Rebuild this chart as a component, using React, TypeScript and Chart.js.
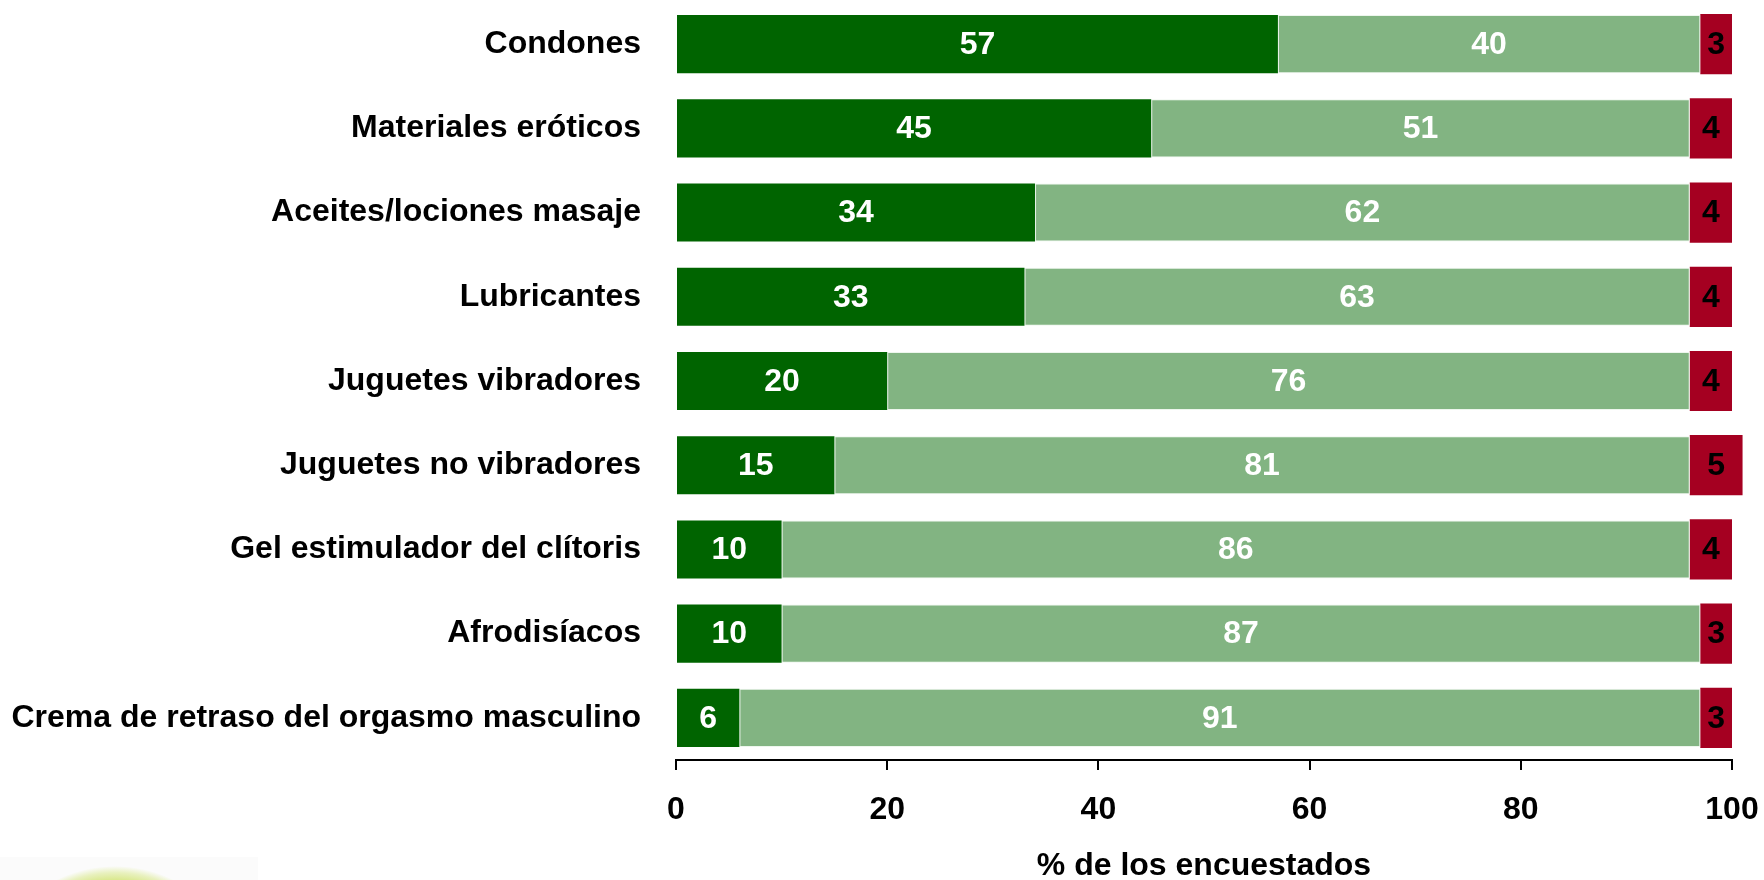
import React, { useEffect, useRef } from "react";
import { Chart, registerables } from "chart.js";

Chart.register(...registerables);

const categories = [
  "Condones",
  "Materiales eróticos",
  "Aceites/lociones masaje",
  "Lubricantes",
  "Juguetes vibradores",
  "Juguetes no vibradores",
  "Gel estimulador del clítoris",
  "Afrodisíacos",
  "Crema de retraso del orgasmo masculino",
];
const seriesDark = [57, 45, 34, 33, 20, 15, 10, 10, 6];
const seriesLight = [40, 51, 62, 63, 76, 81, 86, 87, 91];
const seriesRed = [3, 4, 4, 4, 4, 5, 4, 3, 3];
const xTicks = [0, 20, 40, 60, 80, 100];
const axisTitle = "% de los encuestados";

const FONT = "'Liberation Sans', Arial, Helvetica, sans-serif";

const labelPlugin = {
  id: "segLabels",
  afterDatasetsDraw(chart: any) {
    const ctx = chart.ctx;
    ctx.save();
    ctx.font = `bold 32px ${FONT}`;
    ctx.textAlign = "center";
    ctx.textBaseline = "middle";
    chart.data.datasets.forEach((ds: any, di: number) => {
      const meta = chart.getDatasetMeta(di);
      meta.data.forEach((el: any, i: number) => {
        const v = ds.data[i];
        const cx = (el.x + el.base) / 2;
        ctx.fillStyle = di === 2 ? "#000000" : "#ffffff";
        ctx.fillText(String(v), cx, el.y + 1);
      });
    });
    ctx.restore();
  },
};

export default function App() {
  const ref = useRef<HTMLCanvasElement>(null);
  useEffect(() => {
    document.body.style.margin = "0";
    const canvas = ref.current!;
    const chart = new Chart(canvas, {
      type: "bar",
      data: {
        labels: categories,
        datasets: [
          {
            data: seriesDark,
            backgroundColor: "#006400",
            borderWidth: 0,
            barPercentage: 0.69,
            categoryPercentage: 1,
            clip: false,
          } as any,
          {
            data: seriesLight,
            backgroundColor: "#82B482",
            borderColor: "rgba(235,245,235,0.9)",
            borderWidth: 1,
            borderSkipped: false,
            barPercentage: 0.69,
            categoryPercentage: 1,
            clip: false,
          } as any,
          {
            data: seriesRed,
            backgroundColor: "#A50021",
            borderWidth: 0,
            barPercentage: 0.715,
            categoryPercentage: 1,
            clip: false,
          } as any,
        ],
      },
      options: {
        indexAxis: "y",
        responsive: false,
        animation: false,
        layout: { padding: { top: 2, left: 0, right: 32, bottom: 0 } },
        plugins: {
          legend: { display: false },
          tooltip: { enabled: false },
        },
        scales: {
          x: {
            stacked: true,
            min: 0,
            max: 100,
            afterBuildTicks: (scale: any) => {
              scale.ticks = xTicks.map((v) => ({ value: v }));
            },
            afterFit: (scale: any) => {
              scale.height = 120;
              scale.paddingLeft = 0;
              scale.paddingRight = 0;
            },
            grid: {
              display: true,
              drawOnChartArea: false,
              drawTicks: true,
              tickLength: 10,
              color: "#000000",
              lineWidth: 2,
            },
            border: { display: true, color: "#000000", width: 2 },
            ticks: {
              color: "#000000",
              padding: 21,
              maxRotation: 0,
              font: { family: FONT, size: 32, weight: "bold" },
            },
            title: {
              display: true,
              text: axisTitle,
              color: "#000000",
              padding: { top: 0, bottom: 0 },
              font: { family: FONT, size: 32, weight: "bold", lineHeight: 0.875 },
            },
          },
          y: {
            stacked: true,
            afterFit: (scale: any) => {
              scale.width = 676;
              scale.paddingTop = 0;
              scale.paddingBottom = 0;
            },
            grid: { display: false, drawTicks: false },
            border: { display: false },
            ticks: {
              color: "#000000",
              padding: 35,
              font: { family: FONT, size: 32, weight: "bold" },
            },
          },
        },
      },
      plugins: [labelPlugin],
    } as any);
    return () => chart.destroy();
  }, []);

  return (
    <div style={{ position: "relative", width: 1764, height: 880, overflow: "hidden", background: "#ffffff" }}>
      <div
        style={{
          position: "absolute",
          left: 0,
          top: 857,
          width: 258,
          height: 23,
          background: "#fbfbfb",
        }}
      />
      <div
        style={{
          position: "absolute",
          left: -17,
          top: 866,
          width: 264,
          height: 264,
          borderRadius: "50%",
          background:
            "radial-gradient(circle closest-side, #d2e374 0%, #d6e682 88%, rgba(220,234,150,0.6) 95%, rgba(251,251,251,0) 100%)",
        }}
      />
      <canvas ref={ref} width={1764} height={880} style={{ position: "absolute", left: 0, top: 0, display: "block" }} />
    </div>
  );
}
